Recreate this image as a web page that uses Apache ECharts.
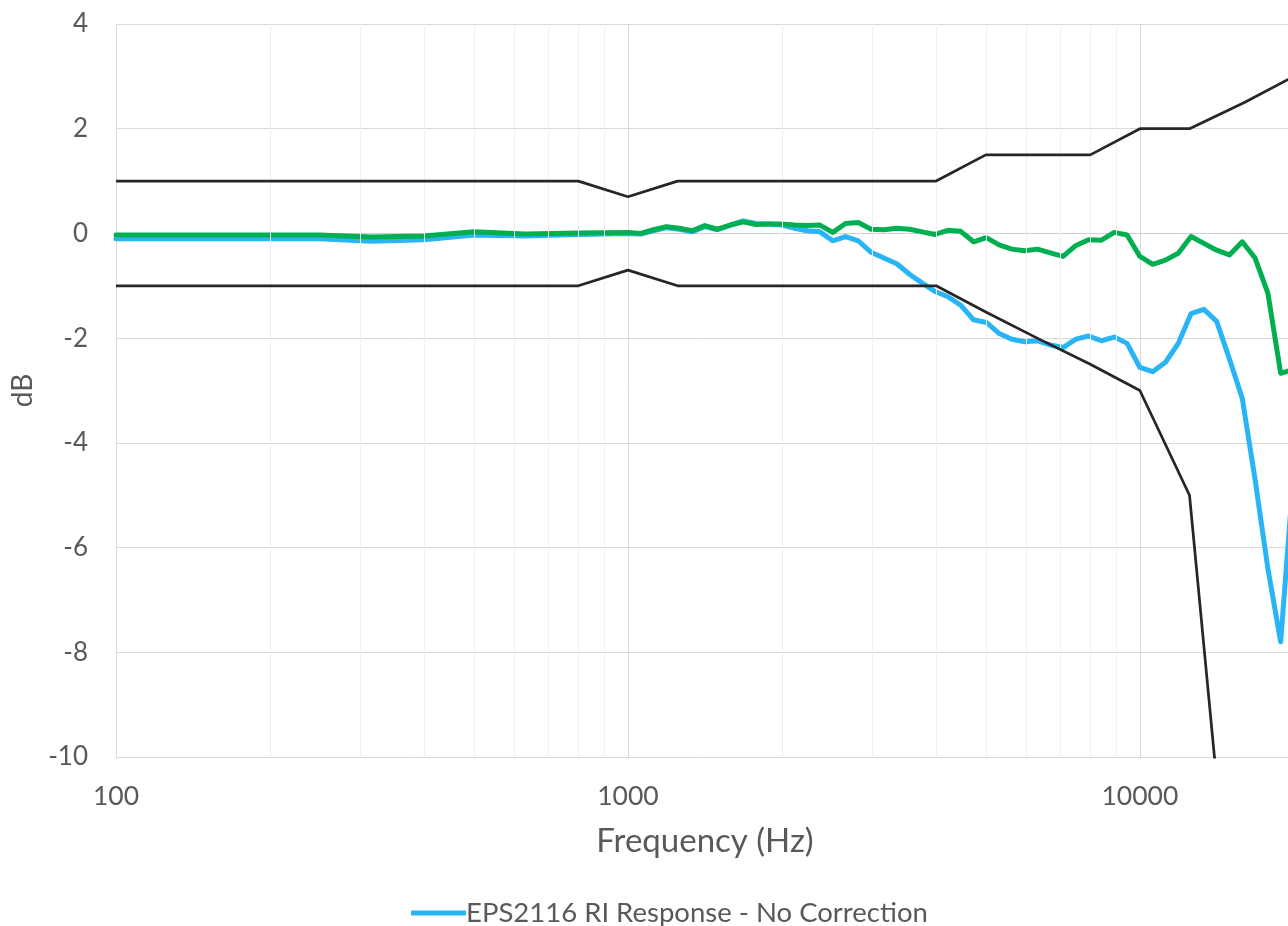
<!DOCTYPE html>
<html>
<head>
<meta charset="utf-8">
<script src="https://cdn.jsdelivr.net/npm/echarts@6/dist/echarts.min.js"></script>
<style>
html,body{margin:0;padding:0;background:#fff;}
#chart{width:1288px;height:926px;}
</style>
</head>
<body>
<div id="chart"></div>
<script>
// Frequencies (Hz): 1/3 octave below 1 kHz, ~1/12 octave above
const freqs = [100,125,160,200,250,315,400,500,630,800,
  1000,1059,1122,1189,1259,1334,1413,1496,1585,1679,1778,1884,1995,2113,2239,2371,2512,2661,2818,2985,
  3162,3350,3548,3758,3981,4217,4467,4732,5012,5309,5623,5957,6310,6683,7079,7499,7943,8414,8913,9441,
  10000,10593,11220,11885,12589,13335,14125,14962,15849,16788,17783,18836,19953];

// EPS2116 RI Response - No Correction (blue), dB
const blueDb = [-0.10,-0.10,-0.10,-0.10,-0.10,-0.15,-0.12,-0.03,-0.05,-0.02,
  0.00,-0.01,0.05,0.11,0.08,0.03,0.13,0.07,0.16,0.24,0.19,0.18,0.16,0.10,0.05,0.03,-0.14,-0.06,-0.14,-0.36,
  -0.47,-0.58,-0.78,-0.95,-1.11,-1.21,-1.37,-1.65,-1.70,-1.91,-2.02,-2.07,-2.05,-2.13,-2.18,-2.02,-1.96,-2.05,-1.98,-2.10,
  -2.56,-2.64,-2.46,-2.10,-1.53,-1.45,-1.68,-2.40,-3.15,-4.70,-6.40,-7.80,-4.60];

// Corrected response (green), dB
const greenDb = [-0.03,-0.03,-0.03,-0.03,-0.03,-0.07,-0.05,0.03,-0.01,0.01,
  0.02,0.00,0.07,0.13,0.10,0.05,0.15,0.08,0.16,0.22,0.17,0.18,0.18,0.16,0.15,0.16,0.02,0.19,0.21,0.08,
  0.07,0.10,0.08,0.03,-0.02,0.06,0.04,-0.16,-0.08,-0.22,-0.30,-0.33,-0.30,-0.37,-0.44,-0.23,-0.12,-0.13,0.02,-0.03,
  -0.44,-0.59,-0.51,-0.38,-0.06,-0.19,-0.32,-0.41,-0.16,-0.47,-1.14,-2.67,-2.60];

// Tolerance limits
const tolFreq  = [100, 800, 1000, 1250, 4000, 5000, 6300, 8000, 10000, 12500, 16000, 20000];
const tolUpper = [1, 1, 0.7, 1, 1, 1.5, 1.5, 1.5, 2, 2, 2.5, 3];
const tolLower = [-1, -1, -0.7, -1, -1, -1.5, -2, -2.5, -3, -5, -16, null];

// Minor vertical grid frequencies
const minorGrid = [200,300,400,500,600,700,800,900,2000,3000,4000,5000,6000,7000,8000,9000];

const yTicks = {min: -10, max: 4, interval: 2};
const legendLabel = 'EPS2116 RI Response - No Correction';

const FONT = 'Lato';
const TXT = '#595959';

const pair = (xs, ys) => xs.map((x, i) => [x, ys[i]]);

const chart = echarts.init(document.getElementById('chart'), null, {renderer: 'canvas'});
chart.setOption({
  animation: false,
  backgroundColor: '#ffffff',
  grid: {left: 116, width: 1178, top: 24, height: 733, containLabel: false, outerBoundsMode: 'none'},
  legend: {
    data: [{name: legendLabel}],
    left: 406, top: 894,
    icon: 'roundRect', itemWidth: 55, itemHeight: 5, itemGap: 20,
    textStyle: {fontFamily: FONT, fontSize: 27.5, color: TXT, padding: [0,0,0,-5]}
  },
  xAxis: {
    type: 'log', logBase: 10, min: 100, max: 20000,
    name: 'Frequency (Hz)', nameLocation: 'middle', nameGap: 68,
    nameTextStyle: {fontFamily: FONT, fontSize: 33, color: TXT},
    axisLine: {show: true, lineStyle: {color: '#CFCFCF', width: 1}},
    axisTick: {show: false},
    axisLabel: {fontFamily: FONT, fontSize: 26.5, color: TXT, margin: 26, showMaxLabel: false,
      formatter: v => String(Math.round(v))},
    splitLine: {show: true, lineStyle: {color: '#D9D9D9', width: 1}}
  },
  yAxis: {
    type: 'value', min: yTicks.min, max: yTicks.max, interval: yTicks.interval,
    name: 'dB', nameLocation: 'middle', nameGap: 74, nameRotate: 90,
    nameTextStyle: {fontFamily: FONT, fontSize: 28, color: TXT},
    axisLine: {show: false}, axisTick: {show: false},
    axisLabel: {fontFamily: FONT, fontSize: 26, color: TXT, margin: 28},
    splitLine: {show: true, lineStyle: {color: '#D9D9D9', width: 1}}
  },
  series: [
    {
      name: 'minor', type: 'line', data: [], z: 1, silent: true,
      markLine: {
        silent: true, symbol: 'none', label: {show: false}, animation: false,
        lineStyle: {color: '#EFEFEF', width: 1, type: 'solid'},
        emphasis: {disabled: true},
        data: minorGrid.map(f => ({xAxis: f}))
      }
    },
    {
      name: legendLabel, type: 'line', data: pair(freqs, blueDb), z: 3,
      showSymbol: false, symbol: 'none', color: '#29B4F6',
      lineStyle: {color: '#29B4F6', width: 5, cap: 'round', join: 'round'}
    },
    {
      name: 'Corrected', type: 'line', data: pair(freqs, greenDb), z: 4,
      showSymbol: false, symbol: 'none', color: '#00B050',
      lineStyle: {color: '#00B050', width: 5, cap: 'round', join: 'round'}
    },
    {
      name: 'Upper limit', type: 'line', data: pair(tolFreq, tolUpper), z: 5,
      showSymbol: false, symbol: 'none', color: '#262626',
      lineStyle: {color: '#262626', width: 2.75, join: 'round'}
    },
    {
      name: 'Lower limit', type: 'line', data: pair(tolFreq, tolLower), z: 5,
      showSymbol: false, symbol: 'none', color: '#262626', clip: true,
      lineStyle: {color: '#262626', width: 2.75, join: 'round'}
    }
  ]
});
</script>
</body>
</html>
